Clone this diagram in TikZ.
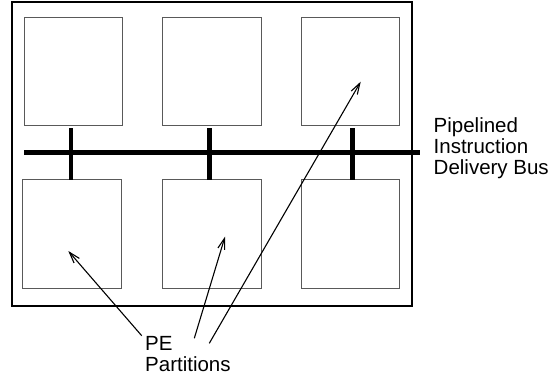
\documentclass[tikz,border=0pt]{standalone}
\usepackage{fontspec}
\setmainfont{Liberation Sans}
\usetikzlibrary{arrows.meta}
\begin{document}
\begin{tikzpicture}[x=1pt,y=-1pt,
  pebox/.style={draw=black!65,line width=1pt,minimum width=98.5pt,minimum height=108.5pt,inner sep=0pt},
  frame/.style={draw=black,line width=1.5pt},
  bus/.style={line width=4.5pt},
  stub/.style={line width=4.5pt},
  pointer/.style={line width=1.1pt,-{Straight Barb[length=11pt,width=7pt,line width=1.1pt]}},
  lbl/.style={font=\fontsize{20.5pt}{21pt}\selectfont,align=left,inner sep=0pt}]
\useasboundingbox (0,0) rectangle (552,377);
% outer frame
\node[frame,minimum width=400pt,minimum height=304pt,inner sep=0pt] (frame) at (212,154) {};
% PE boxes
\node[pebox] (b1) at (73.5,71.5) {};
\node[pebox] (b2) at (212,71.5) {};
\node[pebox] (b3) at (350.5,71.5) {};
\node[pebox] (b4) at (71.8,234) {};
\node[pebox] (b5) at (212,234) {};
\node[pebox] (b6) at (350.5,234) {};
% bus
\coordinate (busL) at (24,152.7);
\coordinate (busR) at (420,152.7);
\draw[bus] (busL) -- (busR);
\draw[stub] ([xshift=-2.5pt,yshift=-2pt]b1.south) -- ([xshift=-0.8pt,yshift=-1pt]b4.north);
\draw[stub] ([xshift=-2.7pt,yshift=-2pt]b2.south) -- ([xshift=-2.7pt,yshift=-1pt]b5.north);
\draw[stub] ([xshift=1.8pt,yshift=-2pt]b3.south) -- ([xshift=1.8pt,yshift=-1pt]b6.north);
% labels
\node[lbl,anchor=base west] (buslbl) at (433.5,175) {Pipelined\\Instruction\\Delivery Bus};
\node[lbl,anchor=base west] (pelbl) at (145,371.5) {PE\\Partitions};
% pointers
\coordinate (s1) at (141.7,335.7);
\coordinate (s2) at (194.3,338.3);
\coordinate (s3) at (209.3,343.3);
\coordinate (t1) at (68.3,251);
\coordinate (t2) at (225,236.7);
\coordinate (t3) at (360.7,81.7);
\draw[pointer] (s1) -- (t1);
\draw[pointer] (s2) -- (t2);
\draw[pointer] (s3) -- (t3);
\end{tikzpicture}
\end{document}
